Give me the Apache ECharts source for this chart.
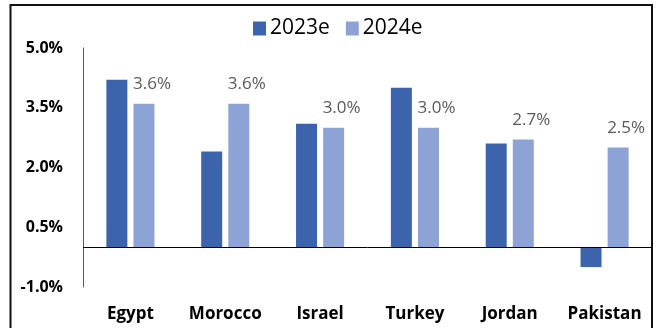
<!DOCTYPE html>
<html>
<head>
<meta charset="utf-8">
<script src="https://cdn.jsdelivr.net/npm/echarts@6/dist/echarts.min.js"></script>
<style>
  html, body { margin: 0; padding: 0; background: #ffffff; }
  #chart { width: 659px; height: 328px; }
</style>
</head>
<body>
<div id="chart"></div>
<script>
// Real GDP growth estimates by country
const countries = ['Egypt', 'Morocco', 'Israel', 'Turkey', 'Jordan', 'Pakistan'];
const growth2023 = [4.2, 2.4, 3.1, 4.0, 2.6, -0.5];
const growth2024 = [3.6, 3.6, 3.0, 3.0, 2.7, 2.5];
const seriesNames = ['2023e', '2024e'];
const yTicks = [-1.0, 0.5, 2.0, 3.5, 5.0];

const pct = v => Number(v).toFixed(1) + '%';

const chart = echarts.init(document.getElementById('chart'), null, { renderer: 'canvas' });

chart.setOption({
  animation: false,
  backgroundColor: '#ffffff',
  textStyle: { fontFamily: '"Open Sans", "Noto Sans", sans-serif' },
  legend: {
    data: seriesNames,
    top: 13,
    left: 248,
    itemWidth: 13,
    itemHeight: 14,
    itemGap: 16,
    icon: 'rect',
    textStyle: { fontSize: 21, color: '#000000', padding: [0, 0, 0, -1] }
  },
  grid: { left: 83, right: 7, top: 48, bottom: 41, containLabel: false },
  xAxis: {
    type: 'category',
    data: countries,
    axisLine: { show: false, onZero: false },
    axisTick: { show: false },
    axisLabel: {
      margin: 19,
      fontSize: 17,
      fontWeight: 'bold',
      color: '#000000',
      interval: 0
    },
    splitLine: { show: false }
  },
  yAxis: {
    type: 'value',
    min: yTicks[0],
    max: yTicks[yTicks.length - 1],
    axisLine: { show: true, lineStyle: { color: '#595959', width: 1 } },
    axisTick: { show: false },
    splitLine: { show: false },
    axisLabel: {
      customValues: yTicks,
      formatter: pct,
      fontSize: 16,
      fontWeight: 'bold',
      color: '#000000',
      margin: 20
    }
  },
  series: [
    {
      name: seriesNames[0],
      type: 'bar',
      data: growth2023,
      barWidth: 21,
      barGap: '29%',
      itemStyle: { color: '#3B64AD' },
      markLine: {
        silent: true,
        symbol: 'none',
        label: { show: false },
        lineStyle: { color: '#000000', width: 1, type: 'solid' },
        data: [{ yAxis: 0 }]
      }
    },
    {
      name: seriesNames[1],
      type: 'bar',
      data: growth2024,
      barWidth: 21,
      barGap: '29%',
      itemStyle: { color: '#8EA3D5' },
      label: {
        show: true,
        position: 'top',
        offset: [8, -6],
        fontSize: 17,
        color: '#595959',
        formatter: p => pct(p.value)
      }
    }
  ],
  graphic: [
    {
      type: 'rect',
      silent: true,
      z: 100,
      shape: { x: 10.5, y: 5, width: 641.5, height: 340 },
      style: { fill: 'none', stroke: '#111111', lineWidth: 2 }
    }
  ]
});
</script>
</body>
</html>
